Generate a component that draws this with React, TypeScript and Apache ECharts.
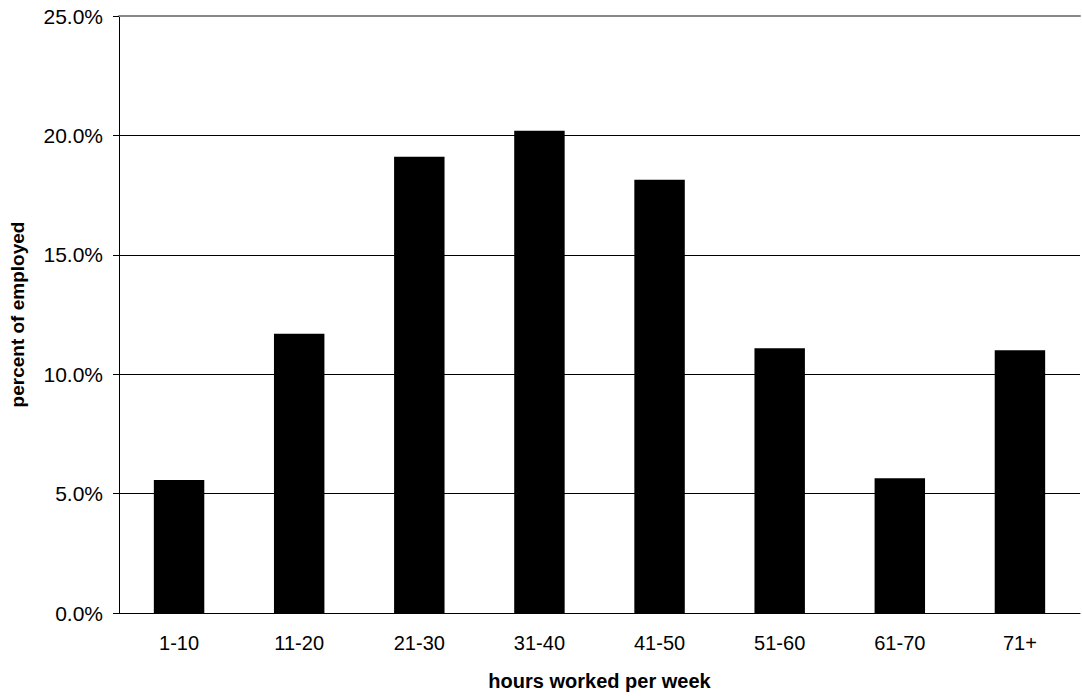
import * as echarts from 'echarts'
import { useEffect, useRef } from 'react'

const categories = ['1-10', '11-20', '21-30', '31-40', '41-50', '51-60', '61-70', '71+']
const percents = [5.57, 11.69, 19.11, 20.19, 18.14, 11.09, 5.64, 11.0]

const font = 'Arial, "Liberation Sans", sans-serif'

const App = () => {
  const chartRef = useRef<HTMLDivElement>(null)

  useEffect(() => {
    if (!chartRef.current) return
    const chart = echarts.init(chartRef.current, undefined, { renderer: 'svg' })
    chart.setOption({
      animation: false,
      grid: { left: 118, right: 2, top: 16, bottom: 78 },
      xAxis: [
        {
          type: 'category',
          data: categories,
          name: 'hours worked per week',
          nameLocation: 'middle',
          nameGap: 58,
          nameTextStyle: { fontFamily: font, fontWeight: 'bold', fontSize: 20, color: '#000' },
          axisLine: { lineStyle: { color: '#000', width: 1 } },
          axisTick: { length: 6, lineStyle: { color: '#000' } },
          axisLabel: { fontFamily: font, fontSize: 20, color: '#000', margin: 20 },
        },
        {
          type: 'category',
          position: 'top',
          data: categories,
          axisLine: { lineStyle: { color: '#888', width: 2 } },
          axisTick: { show: false },
          axisLabel: { show: false },
        },
      ],
      yAxis: {
        type: 'value',
        min: 0,
        max: 25,
        interval: 5,
        name: 'percent of employed',
        nameLocation: 'middle',
        nameGap: 92,
        nameTextStyle: { fontFamily: font, fontWeight: 'bold', fontSize: 19, color: '#000' },
        axisLine: { show: true, lineStyle: { color: '#000' } },
        axisTick: { show: true, length: 6, lineStyle: { color: '#000' } },
        axisLabel: {
          fontFamily: font,
          fontSize: 21,
          color: '#000',
          margin: 16,
          formatter: (v: number) => v.toFixed(1) + '%',
        },
        splitLine: { lineStyle: { color: '#000', width: 1 } },
      },
      series: [
        {
          type: 'bar',
          data: percents,
          barCategoryGap: '58%',
          itemStyle: { color: '#000' },
        },
      ],
    })
    return () => chart.dispose()
  }, [])

  return (
    <div
      ref={chartRef}
      style={{ position: 'absolute', left: 0, top: 0, width: 1082, height: 696 }}
    />
  )
}

export default App
